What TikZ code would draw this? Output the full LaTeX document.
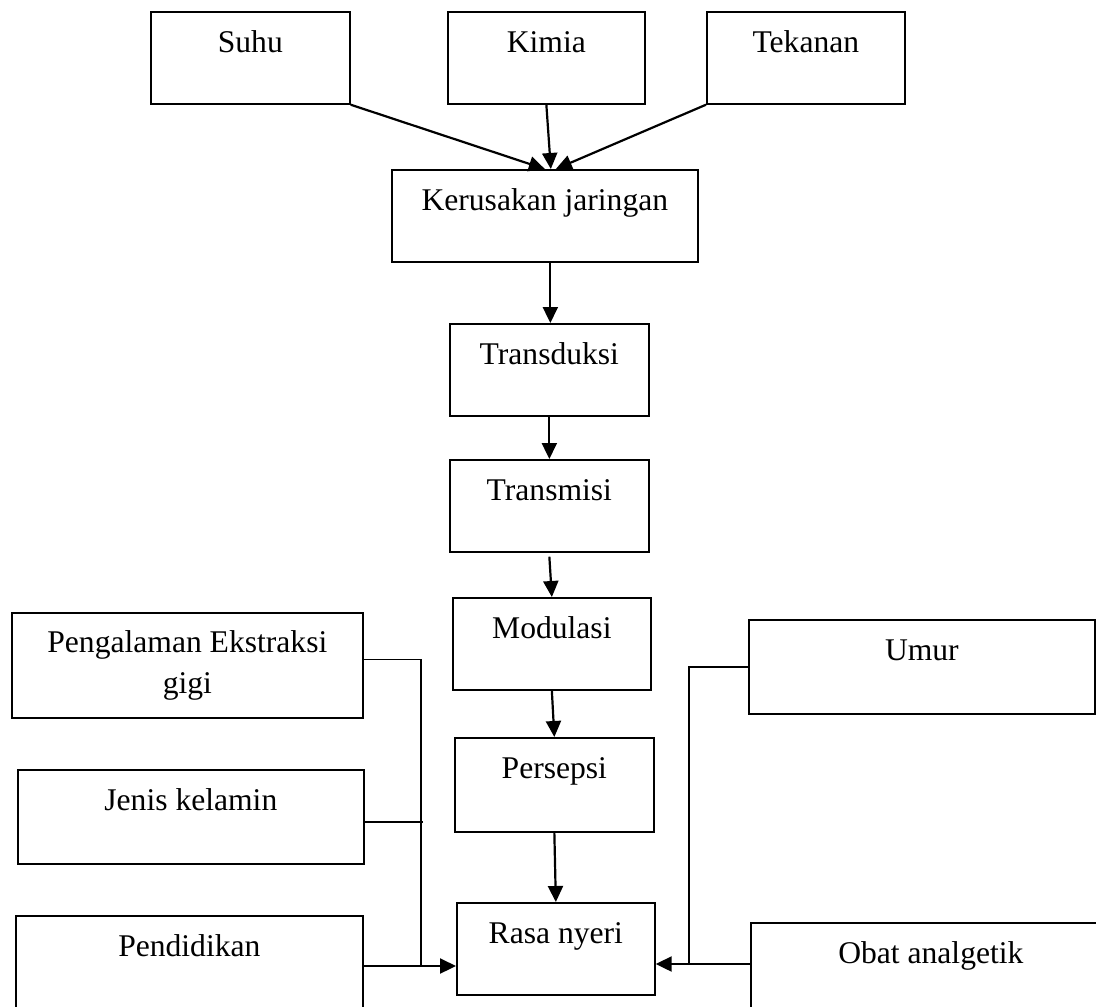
\documentclass[tikz,border=0pt]{standalone}
\usepackage{fontspec}
\setmainfont{Liberation Serif}
\usetikzlibrary{arrows.meta}

\begin{document}
\begin{tikzpicture}[x=0.5pt, y=-0.5pt,
                    kotak/.style={draw, line width=0.85pt, anchor=north west, inner sep=0pt, font=\fontsize{15.8}{20.5}\selectfont},
                    isi/.style={kotak, text height=20.5pt, text depth=25.5pt},
                    panah/.style={-{Triangle[length=8pt, width=7.5pt]}, line width=1.1pt},
                    garis/.style={line width=0.65pt}]
                    \clip (0,0) rectangle (1096,1006);
                    % penyebab
                    \node [isi, minimum width=99.5pt] (suhu) at (150,11) {Suhu};
                    \node [isi, minimum width=98.5pt] (kimia) at (447,11) {Kimia};
                    \node [isi, minimum width=99pt] (tekanan) at (706,11) {Tekanan};
                    % alur tengah
                    \node [isi, minimum width=153pt] (kerusakan) at (391,169) {Kerusakan jaringan};
                    \node [isi, minimum width=99.5pt] (transduksi) at (449,323) {Transduksi};
                    \node [isi, minimum width=99.5pt] (transmisi) at (449,459) {Transmisi};
                    \node [isi, minimum width=99pt] (modulasi) at (452,597) {Modulasi};
                    \node [isi, minimum width=99.5pt, text depth=26.5pt] (persepsi) at (454,737) {Persepsi};
                    \node [isi, minimum width=99pt] (rasa) at (456,902) {Rasa nyeri};
                    % faktor kiri
                    \node [kotak, minimum width=175.5pt, minimum height=52.5pt, align=center] (pengalaman) at (11,612) {Pengalaman Ekstraksi\\gigi};
                    \node [isi, minimum width=173pt, text depth=26.5pt] (jenis) at (17,769) {Jenis kelamin};
                    \node [isi, minimum width=173.5pt, text depth=30pt] (pendidikan) at (15,915) {Pendidikan};
                    % faktor kanan
                    \node [isi, minimum width=173pt, text depth=26.5pt] (umur) at (748,619) {Umur};
                    \node [isi, minimum width=180pt, text depth=30pt] (obat) at (750,922) {Obat analgetik};
                    % panah
                    \draw [panah] (suhu.south east) -- (kerusakan.north);
                    \draw [panah] (kimia.south) -- ([xshift=3pt]kerusakan.north);
                    \draw [panah] (tekanan.south west) -- ([xshift=5.5pt]kerusakan.north);
                    \draw [panah] ([xshift=0.5pt]transduksi.north |- kerusakan.south) -- ([xshift=0.5pt]transduksi.north);
                    \draw [panah] (transduksi.south) -- (transmisi.north);
                    \draw [panah] ([yshift=-2pt]transmisi.south) -- (modulasi.north);
                    \draw [panah] (modulasi.south) -- (persepsi.north);
                    \draw [panah] (persepsi.south) -- (rasa.north);
                    % garis samping
                    \coordinate (kiri) at (421,966);
                    \coordinate (kanan) at (689,964);
                    \draw [garis] ([yshift=3pt]pengalaman.east) -| (kiri);
                    \draw [garis] ([yshift=-2.5pt]jenis.east) -- ++(29pt,0);
                    \draw [garis] (pendidikan.east |- kiri) -- (kiri);
                    \draw [panah] (kiri) -- (rasa.west |- kiri);
                    \draw [garis] (umur.west) -| (kanan);
                    \draw [garis] (obat.west |- kanan) -- (kanan);
                    \draw [panah] (kanan) -- (rasa.east |- kanan);
                \end{tikzpicture}
\end{document}
